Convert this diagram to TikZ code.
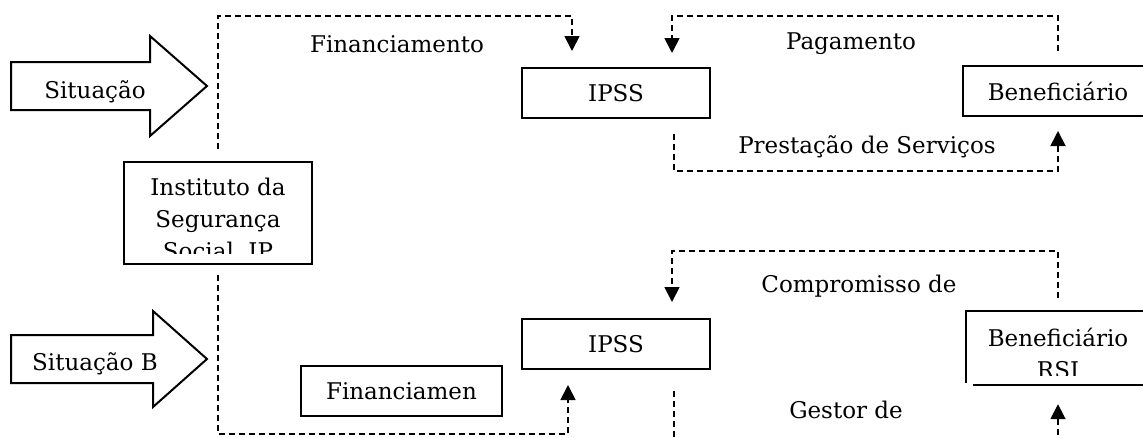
\documentclass[tikz,border=0pt]{standalone}
\usepackage{fontspec}
\setmainfont{DejaVu Serif}
\usetikzlibrary{arrows.meta}

\tikzset{
  box/.style={draw,line width=2pt,inner sep=0pt},
  flow/.style={line width=1.8pt,dash pattern=on 6pt off 4pt},
  tip/.style={-{Triangle[length=15pt,width=15pt]}},
  bigarrow/.style={draw,line width=2pt,line join=miter},
  lbl/.style={anchor=base,inner sep=0pt}
}

\begin{document}
\begin{tikzpicture}[x=1pt,y=-1pt,font=\fontsize{23}{32}\selectfont]
\clip (0,0) rectangle (1143,437);
% situation arrows
\draw[bigarrow] (11,62) -- (150,62) -- (150,36) -- (207,86) -- (150,136) -- (150,110) -- (11,110) -- cycle;
\node[lbl] (sitA) at (95,98) {Situação};
\draw[bigarrow] (11,335) -- (153,335) -- (153,311) -- (207,359) -- (153,407) -- (153,383) -- (11,383) -- cycle;
\node[lbl] (sitB) at (95,370) {Situação B};

% boxes
\node[box,minimum width=188pt,minimum height=102pt] (inst) at (218,213) {};
\begin{scope}
\clip (inst.north west) rectangle ([yshift=12pt]inst.south east);
\node[lbl,align=center] (instTxt) at (218,259) {Instituto da\\Segurança\\Social, IP};
\end{scope}
\node[box,minimum width=188pt,minimum height=50pt] (ipssA) at (616,93) {IPSS};
\node[box,minimum width=190pt,minimum height=50pt] (benA) at (1058,91) {Beneficiário};
\node[box,minimum width=188pt,minimum height=50pt] (ipssB) at (616,344) {IPSS};
\node[box,minimum width=201pt,minimum height=50pt] (finB) at (401.5,391) {Financiamen};
\node[inner sep=0pt,minimum width=184pt,minimum height=74pt] (benB) at (1058,348) {};
\draw[line width=2pt] ([yshift=2pt]benB.south west) -- (benB.north west) -- (benB.north east);
\draw[line width=2pt] ([xshift=7pt]benB.south west) -- (benB.south east);
\begin{scope}
\clip (benB.north west) rectangle ([yshift=10pt]benB.south east);
\node[lbl,align=center] (benTxt) at (1058,378) {Beneficiário\\RSI};
\end{scope}

% labels
\node[lbl] (finA) at (397,52) {Financiamento};
\node[lbl] (pay) at (851,49) {Pagamento};
\node[lbl] (serv) at (867,153) {Prestação de Serviços};
\node[lbl] (comp) at (859,292) {Compromisso de};
\node[lbl] (gest) at (846,418) {Gestor de};

% flows
\coordinate (finTop) at (218,16);
\coordinate (payTop) at (1058,16);
\coordinate (servBot) at (674,171);
\coordinate (compTop) at (1058,251);
\coordinate (finBot) at (218,434);
\coordinate (gestA) at (674,445);
\coordinate (gestB) at (1058,445);
\draw[flow,tip] ([yshift=12pt]inst.north) -- (finTop) -| ([xshift=-44pt,yshift=16pt]ipssA.north);
\draw[flow,tip] ([yshift=14pt]benA.north) -- (payTop) -| ([xshift=56pt,yshift=14pt]ipssA.north);
\draw[flow,tip] ([xshift=58pt,yshift=-15pt]ipssA.south) -- (servBot) -| ([yshift=-14pt]benA.south);
\draw[flow,tip] ([yshift=13pt]benB.north) -- (compTop) -| ([xshift=56pt,yshift=16pt]ipssB.north);
\draw[flow,tip] ([yshift=-10pt]inst.south) -- (finBot) -| ([xshift=-48pt,yshift=-15pt]ipssB.south);
\draw[flow] ([xshift=58pt,yshift=-21pt]ipssB.south) -- (gestA);
\draw[flow,tip] (gestB) -- ([yshift=-19pt]benB.south);
\end{tikzpicture}
\end{document}
